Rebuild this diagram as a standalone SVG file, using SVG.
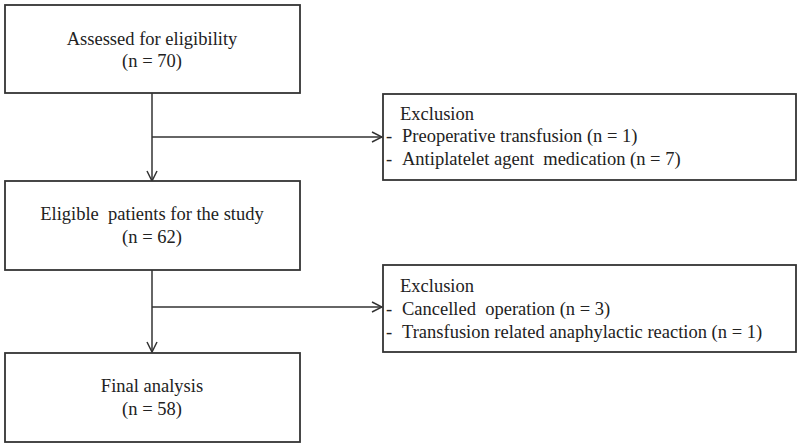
<svg xmlns="http://www.w3.org/2000/svg" width="800" height="447" viewBox="0 0 800 447">
<style>
.box{fill:#fff;stroke:#333;stroke-width:1.8}
.t{font-family:"Liberation Serif","Times New Roman",serif;font-size:18.5px;fill:#222}
.c{text-anchor:middle}
.ln{fill:none;stroke:#333;stroke-width:1.5}
</style>
<defs>
<marker id="arr" viewBox="0 0 12 12" refX="11" refY="6" markerWidth="12" markerHeight="12" markerUnits="userSpaceOnUse" orient="auto">
<path d="M1,1 L11,6 L1,11" fill="none" stroke="#333" stroke-width="1.5"/>
</marker>
</defs>
<rect width="800" height="447" fill="#fff"/>
<g id="connectors">
<path class="ln" d="M152,93 V181" marker-end="url(#arr)"/>
<path class="ln" d="M152,137 H382" marker-end="url(#arr)"/>
<path class="ln" d="M152,270 V352" marker-end="url(#arr)"/>
<path class="ln" d="M152,307 H382" marker-end="url(#arr)"/>
</g>
<g id="assessed">
<rect class="box" x="5" y="5" width="295" height="88"/>
<text class="t c" x="152" y="45">Assessed for eligibility</text>
<text class="t c" x="152" y="67">(n = 70)</text>
</g>
<g id="exclusion1">
<rect class="box" x="383" y="94" width="413" height="86"/>
<text class="t" x="400" y="120">Exclusion</text>
<text class="t" x="386" y="142">-</text>
<text class="t" x="402" y="142">Preoperative transfusion (n = 1)</text>
<text class="t" x="386" y="165">-</text>
<text class="t" x="402" y="165" xml:space="preserve">Antiplatelet agent  medication (n = 7)</text>
</g>
<g id="eligible">
<rect class="box" x="5" y="181" width="295" height="89"/>
<text class="t c" x="152" y="220" xml:space="preserve">Eligible  patients for the study</text>
<text class="t c" x="152" y="243">(n = 62)</text>
</g>
<g id="exclusion2">
<rect class="box" x="383" y="265" width="413" height="87"/>
<text class="t" x="400" y="292">Exclusion</text>
<text class="t" x="386" y="315">-</text>
<text class="t" x="402" y="315" xml:space="preserve">Cancelled  operation (n = 3)</text>
<text class="t" x="386" y="338">-</text>
<text class="t" x="402" y="338">Transfusion related anaphylactic reaction (n = 1)</text>
</g>
<g id="final">
<rect class="box" x="5" y="353" width="295" height="89"/>
<text class="t c" x="152" y="392">Final analysis</text>
<text class="t c" x="152" y="415">(n = 58)</text>
</g>
</svg>
